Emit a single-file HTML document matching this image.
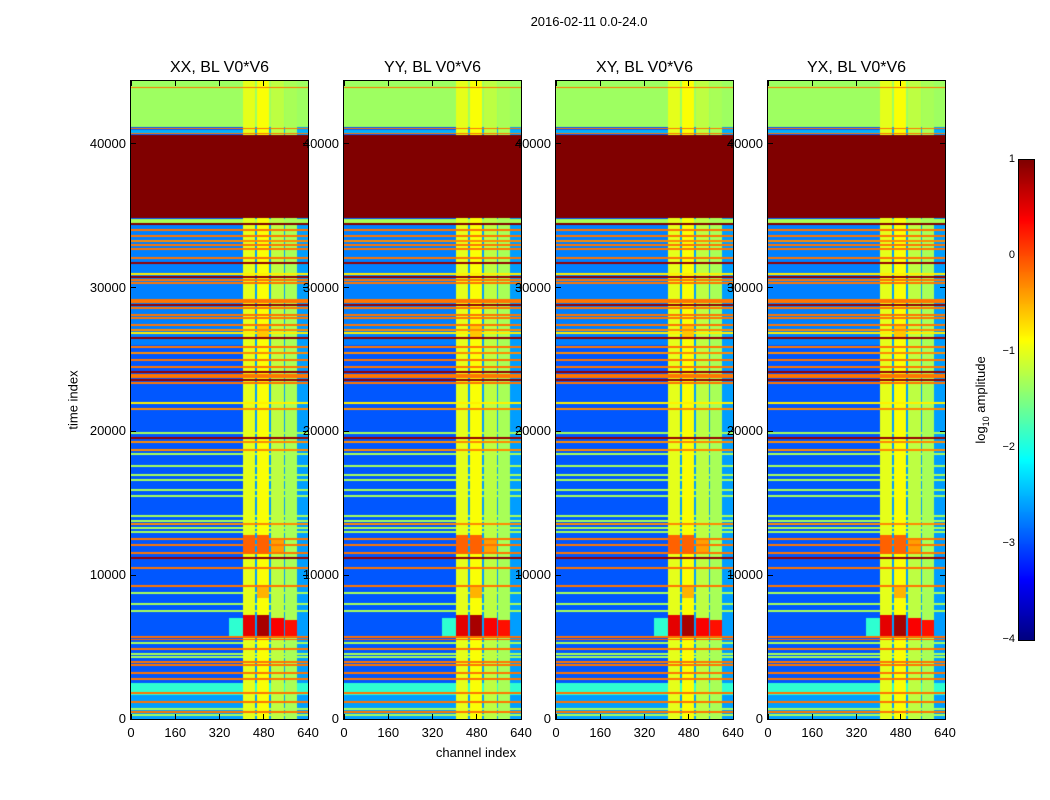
<!DOCTYPE html>
<html><head><meta charset="utf-8">
<style>
body{margin:0;background:#fff;width:1050px;height:800px;position:relative;overflow:hidden;font-family:"Liberation Sans",sans-serif;color:#000}
canvas{position:absolute}
.t{position:absolute;font-size:13px;white-space:nowrap}
</style></head>
<body>
<div class="t" style="left:589px;top:14px;transform:translateX(-50%)">2016-02-11 0.0-24.0</div>
<div id="root"></div>
<div class="t" style="left:73px;top:400px;transform:translate(-50%,-50%) rotate(-90deg)">time index</div>
<div class="t" style="left:476px;top:745px;transform:translateX(-50%)">channel index</div>
<canvas id="cbar" width="15" height="480" style="left:1019px;top:160px"></canvas>
<div style="position:absolute;border:1px solid #000;box-sizing:border-box;left:1018px;top:159px;width:17px;height:482px"></div>
<div class="t" style="left:982px;top:400px;transform:translate(-50%,-50%) rotate(-90deg)">log<sub style="font-size:9px">10</sub> amplitude</div>
<script>
// ---- data ----
const panelNames = ["XX, BL V0*V6","YY, BL V0*V6","XY, BL V0*V6","YX, BL V0*V6"];
const xTicks = [0,160,320,480,640];
const yTicks = [0,10000,20000,30000,40000];
const cbTicks = [1,0,-1,-2,-3,-4];
const tMax = 44380, chMax = 640;
// background zones [t0,t1,level]
const zones = [[41150,44380,-1.35],[40700,41000,-2.5],[34850,40650,1],[34430,34800,-1.3],
 [26000,34430,-2.75],[2600,26000,-2.95],[1670,2500,-1.9],[0,1670,-2.6]];
// thin horizontal lines [t,level]
const lines = [[43900,-0.2],[43000,-2.5],[42400,-2.5],[42100,-2.3],[41100,-0.2],[40700,-0.2],
 [39583,-1.35],[39443,-1.35],[39235,-1.35],[38539,-1.35],[38052,-1.35],[37496,-1.35],[36452,-1.35],
 [34430,1],[34017,-0.2],[33600,-0.2],[33252,-0.3],[32974,-0.2],[32696,-0.2],[32070,-0.2],[31722,0.9],
 [30956,-0.8],[30748,0.9],[30539,-0.2],[30330,-0.2],[29148,-0.2],[29009,-0.2],[28800,0.9],[28591,-0.2],
 [28104,-0.2],[27896,-0.2],[27409,-0.2],[27061,-0.3],[26852,-0.8],[26504,0.9],[25878,-0.2],[25461,-0.3],
 [24974,-0.2],[24487,-0.2],[24139,0.9],[23930,-0.2],[23791,-0.2],[23583,0.9],[23374,-0.2],[21983,-0.8],
 [21565,-0.3],[19896,-1.3],[19548,0.9],[19270,-0.3],[18713,-0.3],[18435,-1.3],[17600,-1.3],[16974,-1.3],
 [16626,-1.3],[15930,-1.3],[15513,-1.3],[14122,-1.3],[13774,-1.3],[13565,-0.3],[13287,-1.3],[13009,-1.3],
 [12522,-0.2],[12104,-0.2],[11548,-0.2],[11200,0.9],[10504,-0.2],[9252,-0.2],[8765,-1.3],[7999,-1.3],[7513,-1.3],
 [5650,-0.1],[5550,-0.1],[5750,-0.2],[5287,-1.3],[4870,-0.2],[4522,-1.3],[4313,-1.3],[3965,-0.2],[3757,-0.2],
 [3200,-0.2],[2783,-0.2],[1809,-0.2],[1183,-0.2],[696,-1.3],[487,-0.2],[278,-1.3]];
// channel bands [c0,c1,level]
const bands = [[405,448,-1.0],[448,455,-2.6],[455,499,-0.9],[499,506,-2.6],[506,553,-1.2],[553,557,-2.6],[557,600,-1.3],[600,640,-2.6]];
// patches [t0,t1,c0,c1,level]
const patches = [[5800,7200,405,448,0.5],[5800,7200,455,499,0.8],[5800,7000,506,553,0.4],[5800,6900,557,600,0.3],
 [5800,7000,355,405,-1.9],[11500,12800,405,448,-0.1],[11500,12800,455,499,-0.1],[11600,12600,506,553,-0.4],
 [8400,9200,455,499,-0.5],[26500,27500,455,499,-0.6]];
// ---- drawing ----
const panelX = [131,344,556,768], PY=81, PW=177, PH=638;
function jet(v){const x=Math.max(0,Math.min(1,(v+4)/5));const c=f=>Math.round(255*Math.max(0,Math.min(1,f)));
 return [c(1.5-Math.abs(4*x-3)),c(1.5-Math.abs(4*x-2)),c(1.5-Math.abs(4*x-1))];}
function rowLevel(t){let b=-2.95;for(const z of zones){if(t>=z[0]&&t<z[1]){b=z[2];break;}}
 for(const l of lines){if(Math.abs(t-l[0])<40)b=Math.max(b,l[1]);}return b;}
function colLevel(c){for(const b of bands){if(c>=b[0]&&c<b[1])return b[2];}return -4;}
const root=document.getElementById('root');
function mk(tag,name,css,txt){const e=document.createElement(tag);
 
 
 e.style.cssText=css;if(txt!==undefined)e.textContent=txt;root.appendChild(e);return e;}
panelX.forEach((px,pi)=>{
 const cv=mk('canvas','heatmap-'+pi,`left:${px}px;top:${PY}px`);cv.width=PW;cv.height=PH;
 const ctx=cv.getContext('2d');const im=ctx.createImageData(PW,PH);
 for(let y=0;y<PH;y++){const t=tMax*(1-(y+0.5)/PH);const rl=rowLevel(t);
  for(let x=0;x<PW;x++){const ch=chMax*(x+0.5)/PW;let v=Math.max(rl,colLevel(ch));
   if(rl>=0.9) v=rl;
   for(const p of patches){if(t>=p[0]&&t<p[1]&&ch>=p[2]&&ch<p[3])v=Math.max(v,p[4]);}
   const c=jet(v);const i=(y*PW+x)*4;im.data[i]=c[0];im.data[i+1]=c[1];im.data[i+2]=c[2];im.data[i+3]=255;}}
 ctx.putImageData(im,0,0);
 mk('div','panel-frame-'+pi,`position:absolute;border:1px solid #000;box-sizing:border-box;left:${px-1}px;top:${PY-1}px;width:${PW+2}px;height:${PH+2}px`);
 mk('div','panel-title-'+pi,`position:absolute;font-size:16px;white-space:nowrap;left:${px+PW/2}px;top:59px;transform:translateX(-50%)`,panelNames[pi]);
 xTicks.forEach(v=>{const x=px+v/chMax*PW;
  mk('div','x-tick',`position:absolute;left:${x-0.5}px;top:${PY+PH-5}px;width:1px;height:5px;background:#000`);
  mk('div','x-tick-top',`position:absolute;left:${x-0.5}px;top:${PY}px;width:1px;height:5px;background:#000`);
  mk('div','x-tick-label',`position:absolute;font-size:13px;left:${x}px;top:${PY+PH+6}px;transform:translateX(-50%)`,String(v));});
 yTicks.forEach(v=>{const y=PY+PH*(1-v/tMax);
  mk('div','y-tick',`position:absolute;left:${px}px;top:${y-0.5}px;width:5px;height:1px;background:#000`);
  mk('div','y-tick-right',`position:absolute;left:${px+PW-5}px;top:${y-0.5}px;width:5px;height:1px;background:#000`);
  mk('div','y-tick-label',`position:absolute;font-size:13px;right:${1050-px+5}px;top:${y-8}px`,String(v));});
});
const cb=document.getElementById('cbar').getContext('2d');
for(let y=0;y<480;y++){const c=jet(1-5*(y+0.5)/480);cb.fillStyle=`rgb(${c[0]},${c[1]},${c[2]})`;cb.fillRect(0,y,15,1);}
cbTicks.forEach(v=>{const y=160+480*(1-v)/5;
 mk('div','colorbar-tick',`position:absolute;left:1030px;top:${y-0.5}px;width:4px;height:1px;background:#000`);
 mk('div','colorbar-tick-label',`position:absolute;font-size:11px;right:${1050-1015}px;top:${y-7}px;text-align:right`,v<0?'\u2212'+(-v):String(v));});
</script>
</body></html>
